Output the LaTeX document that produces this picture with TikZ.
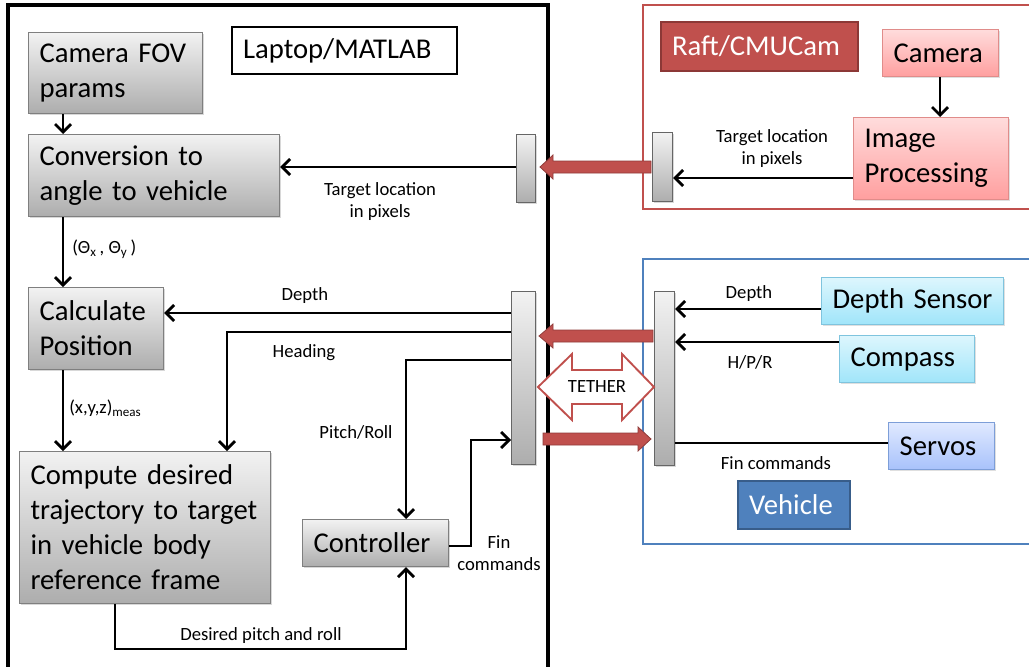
\documentclass[tikz,border=0pt]{standalone}
\usepackage{fontspec}
\setmainfont{Carlito}
\usetikzlibrary{arrows.meta,shadows,calc}
\definecolor{raftred}{HTML}{C0504D}
\definecolor{raftdark}{HTML}{8C3836}
\definecolor{vehblue}{HTML}{4F81BD}
\definecolor{vehdark}{HTML}{385D8A}
\definecolor{grayedge}{HTML}{7F7F7F}
\definecolor{graytop}{HTML}{F2F2F2}
\definecolor{graybot}{HTML}{ADADAD}
\definecolor{pinktop}{HTML}{FFDCDC}
\definecolor{pinkbot}{HTML}{FF9F9F}
\definecolor{pinkedge}{HTML}{E08C8A}
\definecolor{cyantop}{HTML}{DDF6FD}
\definecolor{cyanbot}{HTML}{A0E5FA}
\definecolor{cyanedge}{HTML}{7FC4DE}
\definecolor{bluetop}{HTML}{E0E9FF}
\definecolor{bluebot}{HTML}{A8C2FB}
\definecolor{blueedge}{HTML}{7D9ED8}
\newcommand\bigfont{\fontsize{21.5}{26.3}\selectfont}
\newcommand\smallfont{\fontsize{14}{16.5}\selectfont}
% name, x1, y1, x2, y2, style, text
\newcommand\mkbox[7]{%
  \pgfmathsetmacro\mkbw{(#4-#2)*0.75}%
  \pgfmathsetmacro\mkbh{(#5-#3)*0.75}%
  \pgfmathsetmacro\mktw{(#4-#2-22)*0.75}%
  \node[#6, anchor=north west, minimum width=\mkbw pt, minimum height=\mkbh pt,
        text width=\mktw pt, inner xsep=8.25pt, inner ysep=0pt, align=left,
        font=\bigfont] (#1) at (#2,#3) {#7};}
\tikzset{
  graybox/.style={draw=grayedge, line width=0.8pt, top color=graytop, bottom color=graybot,
    drop shadow={shadow xshift=1.2pt, shadow yshift=-1.2pt, opacity=0.3}},
  pinkbox/.style={draw=pinkedge, line width=0.8pt, top color=pinktop, bottom color=pinkbot,
    drop shadow={shadow xshift=1.2pt, shadow yshift=-1.2pt, opacity=0.25}},
  cyanbox/.style={draw=cyanedge, line width=0.9pt, top color=cyantop, bottom color=cyanbot,
    drop shadow={shadow xshift=1.2pt, shadow yshift=-1.2pt, opacity=0.25}},
  bluebox/.style={draw=blueedge, line width=0.9pt, top color=bluetop, bottom color=bluebot,
    drop shadow={shadow xshift=1.2pt, shadow yshift=-1.2pt, opacity=0.25}},
  titlebox/.style={draw=black, line width=1.6pt, fill=white},
  raftlabel/.style={draw=raftdark, line width=1.6pt, fill=raftred, text=white},
  vehlabel/.style={draw=vehdark, line width=1.6pt, fill=vehblue, text=white},
  barbox/.style={draw=grayedge!80!black, line width=0.8pt, top color=graytop, bottom color=graybot,
    drop shadow={shadow xshift=1pt, shadow yshift=-1pt, opacity=0.3}},
  arr/.style={line width=2.1pt, -{Straight Barb[length=6pt,width=12pt]}},
  plain/.style={line width=2.1pt},
  lbl/.style={font=\smallfont, inner sep=0pt, align=center},
  redarrow/.style={fill=raftred, draw=raftred!75!black, line width=0.6pt},
  tether/.style={fill=white, draw=raftred, line width=1.4pt},
}
\begin{document}
\begin{tikzpicture}[x=0.75pt, y=-0.75pt]
\clip (0,0) rectangle (1029,667);
\fill[white] (0,0) rectangle (1029,667);

% frames
\draw[line width=2.3pt, black] (8,5) rectangle (548,690);
\draw[line width=1.8pt, raftred] (643,5) rectangle (1045,209);
\draw[line width=1.8pt, vehblue] (643,259) rectangle (1045,544);

% laptop boxes
\mkbox{fov}{28}{32}{202}{113}{graybox}{Camera FOV\\params}
\mkbox{lap}{231}{26}{456}{73}{titlebox}{Laptop/MATLAB}
\mkbox{conv}{28}{134}{279}{216}{graybox}{Conversion to\\angle to vehicle}
\mkbox{calc}{28}{287}{163}{369}{graybox}{Calculate\\Position}
\mkbox{comp}{19}{451}{270}{603}{graybox}{Compute desired\\trajectory to target\\in vehicle body\\reference frame}
\mkbox{ctrl}{302}{519}{448}{566}{graybox}{Controller}

% raft boxes
\mkbox{raft}{660}{21}{857}{70}{raftlabel}{Raft/CMUCam}
\mkbox{cam}{882}{29}{998}{76}{pinkbox}{Camera}
\mkbox{ip}{853}{117}{1008}{199}{pinkbox}{Image\\Processing}

% vehicle boxes
\mkbox{dsens}{821}{277}{1003}{324}{cyanbox}{Depth Sensor}
\mkbox{comps}{839}{335}{974}{382}{cyanbox}{Compass}
\mkbox{servos}{888}{422}{994}{469}{bluebox}{Servos}
\mkbox{veh}{737}{480}{849}{528}{vehlabel}{Vehicle}

% connector bars
\node[barbox, anchor=north west, minimum width=14.25pt, minimum height=51pt, inner sep=0pt] (lbar1) at (516,134) {};
\node[barbox, anchor=north west, minimum width=18pt, minimum height=129.75pt, inner sep=0pt] (lbar2) at (511,291) {};
\node[barbox, anchor=north west, minimum width=15pt, minimum height=51.75pt, inner sep=0pt] (rbar) at (652,132) {};
\node[barbox, anchor=north west, minimum width=15pt, minimum height=130.5pt, inner sep=0pt] (vbar) at (654,291) {};

% helper coordinates
\coordinate (xA) at (63,0);
\coordinate (xH) at (227,0);
\coordinate (xP) at (406,0);
\coordinate (xF) at (471,0);
\coordinate (xD) at (115,0);
\coordinate (xC) at (940,0);
\coordinate (yT) at (0,167);
\coordinate (yI) at (0,178);
\coordinate (yDe) at (0,313);
\coordinate (yHe) at (0,332);
\coordinate (yPR) at (0,360);
\coordinate (yFi) at (0,440);
\coordinate (yCo) at (0,546);
\coordinate (yDs) at (0,649);
\coordinate (yVD) at (0,309);
\coordinate (yVH) at (0,342);
\coordinate (yVF) at (0,443);

% laptop connectors
\draw[arr] (fov.south -| xA) -- (conv.north -| xA);
\draw[arr] (conv.south -| xA) -- (calc.north -| xA);
\draw[arr] (calc.south -| xA) -- (comp.north -| xA);
\draw[arr] (lbar1.west |- yT) -- (conv.east |- yT);
\draw[arr] (lbar2.west |- yDe) -- (calc.east |- yDe);
\draw[arr] (lbar2.west |- yHe) -| (comp.north -| xH);
\draw[arr] (lbar2.west |- yPR) -| (ctrl.north -| xP);
\draw[arr] (ctrl.east |- yCo) -| (xF |- yFi) -- (lbar2.west |- yFi);
\draw[arr] (comp.south -| xD) |- (xP |- yDs) -- (ctrl.south -| xP);

% raft connectors
\draw[arr] (cam.south -| xC) -- (ip.north -| xC);
\draw[arr] (ip.west |- yI) -- (rbar.east |- yI);

% vehicle connectors
\draw[arr] (dsens.west |- yVD) -- (vbar.east |- yVD);
\draw[arr] (comps.west |- yVH) -- (vbar.east |- yVH);
\draw[plain] (vbar.east |- yVF) -- (servos.west |- yVF);

% red block arrows
\draw[redarrow] (651,161) -- (553,161) -- (553,155) -- (540,167) -- (553,179) -- (553,173) -- (651,173) -- cycle;
\draw[redarrow] (653,330) -- (553,330) -- (553,324) -- (539,336) -- (553,348) -- (553,342) -- (653,342) -- cycle;
\draw[redarrow] (543,433) -- (638,433) -- (638,427) -- (651,439) -- (638,451) -- (638,445) -- (543,445) -- cycle;

% tether
\draw[tether] (538,387) -- (572,354) -- (572,370) -- (622,370) -- (622,354) -- (654,387)
  -- (622,420) -- (622,404) -- (572,404) -- (572,420) -- cycle;
\node[lbl] (tet) at (597,387) {TETHER};

% labels
\node[lbl] (tl1) at (380,202) {Target location\\in pixels};
\node[lbl] (tl2) at (772,149) {Target location\\in pixels};
\node[lbl, anchor=west] (theta) at (72,249) {(Θ\textsubscript{x}\,, Θ\textsubscript{y}\,)};
\node[lbl, anchor=west] (xyz) at (69,408) {(x,y,z)\textsubscript{meas}};
\node[lbl] (ldepth) at (305,296) {Depth};
\node[lbl] (lhead) at (304,353) {Heading};
\node[lbl] (lpr) at (356,432) {Pitch/Roll};
\node[lbl] (lfin) at (499,553) {Fin\\commands};
\node[lbl] (ldes) at (261,636) {Desired pitch and roll};
\node[lbl] (vdepth) at (749,294) {Depth};
\node[lbl] (vhpr) at (750,362) {H/P/R};
\node[lbl] (vfin) at (776,463) {Fin commands};
\end{tikzpicture}
\end{document}
